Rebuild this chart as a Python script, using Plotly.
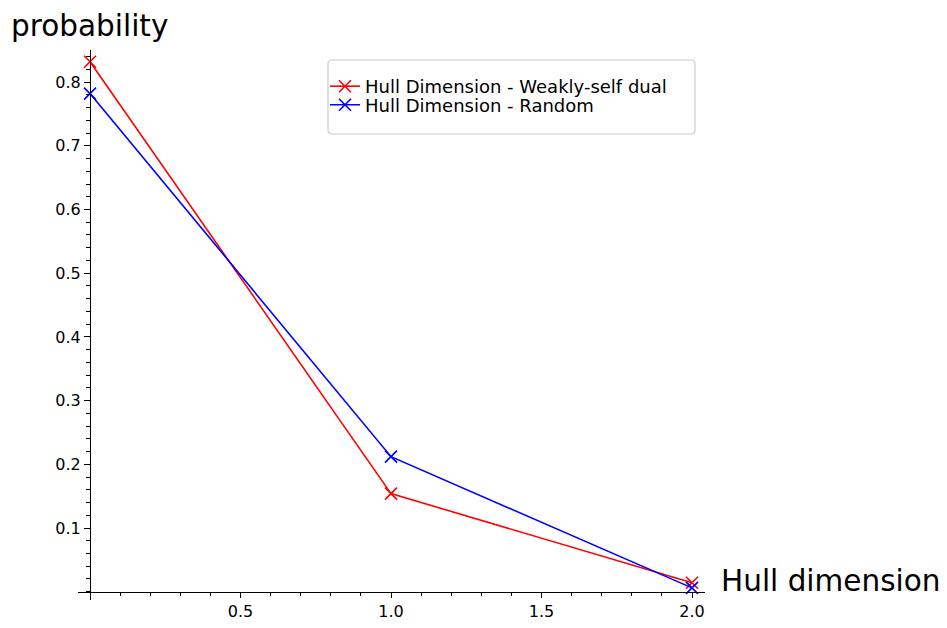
import plotly.graph_objects as go

# Data
hull_dims = [0, 1, 2]
weakly_self_dual = [0.832, 0.154, 0.014]
random_codes = [0.782, 0.212, 0.006]
series_names = ["Hull Dimension - Weakly-self dual", "Hull Dimension - Random"]
x_tick_vals = [0.5, 1.0, 1.5, 2.0]
x_tick_text = ["0.5", "1.0", "1.5", "2.0"]
y_tick_vals = [0.1, 0.2, 0.3, 0.4, 0.5, 0.6, 0.7, 0.8]
y_tick_text = ["0.1", "0.2", "0.3", "0.4", "0.5", "0.6", "0.7", "0.8"]

W, H = 947, 628
OFF = 8  # page body margin offset
FONT = "DejaVu Sans"

def px_x(p):
    return (p - OFF) / W

def px_y(p):
    return 1 - (p - OFF) / H

fig = go.Figure()
for ys, col, name, lg in [(weakly_self_dual, "#ff0000", series_names[0], "legend"),
                          (random_codes, "#0000ff", series_names[1], "legend2")]:
    fig.add_trace(go.Scatter(
        x=hull_dims, y=ys, name=name, mode="lines+markers", legend=lg,
        line=dict(color=col, width=1.6),
        marker=dict(symbol="x-thin", size=12, line=dict(color=col, width=1.6), color=col),
        cliponaxis=False,
    ))

axis_col = "#000000"
leg_common = dict(xanchor="left", yanchor="middle", bgcolor="rgba(0,0,0,0)", borderwidth=0,
                  font=dict(family=FONT, size=18, color="black"), itemwidth=30)
fig.update_layout(
    width=W, height=H,
    margin=dict(l=0, r=0, t=0, b=0, autoexpand=False),
    paper_bgcolor="white", plot_bgcolor="white",
    font=dict(family=FONT, size=17, color="black"),
    showlegend=True,
    legend=dict(x=px_x(325), y=px_y(86.5), **leg_common),
    legend2=dict(x=px_x(325), y=px_y(105), **leg_common),
    xaxis=dict(
        domain=[px_x(78), px_x(705)], range=[-12 / 301, 615 / 301],
        anchor="free", position=px_y(591.7),
        showgrid=False, zeroline=False, showline=True, linecolor=axis_col, linewidth=1.2,
        tickmode="array", tickvals=x_tick_vals, ticktext=x_tick_text,
        ticks="outside", ticklen=5, tickwidth=1.2, tickcolor=axis_col,
        tickfont=dict(family=FONT, size=16, color="black"),
        minor=dict(tickmode="linear", tick0=0, dtick=0.1, ticks="outside", ticklen=3,
                   tickwidth=1, tickcolor=axis_col, showgrid=False),
        automargin=False,
    ),
    yaxis=dict(
        domain=[px_y(600), px_y(50)], range=[-8.3 / 637, 541.7 / 637],
        anchor="free", position=px_x(90),
        showgrid=False, zeroline=False, showline=True, linecolor=axis_col, linewidth=1.2,
        tickmode="array", tickvals=y_tick_vals, ticktext=y_tick_text,
        ticks="outside", ticklen=6, tickwidth=1.2, tickcolor=axis_col,
        tickfont=dict(family=FONT, size=16, color="black"),
        minor=dict(tickmode="linear", tick0=0, dtick=0.02, ticks="outside", ticklen=3.5,
                   tickwidth=1, tickcolor=axis_col, showgrid=False),
        automargin=False,
    ),
)

# Legend frame (rounded rectangle) in paper coords
x0, x1, y0, y1, r = 328, 695, 60, 134, 4
def P(x, y):
    return f"{px_x(x):.5f},{px_y(y):.5f}"
path = (f"M {P(x0 + r, y0)} L {P(x1 - r, y0)} Q {P(x1, y0)} {P(x1, y0 + r)} "
        f"L {P(x1, y1 - r)} Q {P(x1, y1)} {P(x1 - r, y1)} L {P(x0 + r, y1)} "
        f"Q {P(x0, y1)} {P(x0, y1 - r)} L {P(x0, y0 + r)} Q {P(x0, y0)} {P(x0 + r, y0)} Z")
fig.add_shape(type="path", path=path, xref="paper", yref="paper",
              line=dict(color="#cccccc", width=1.2), fillcolor="rgba(255,255,255,0.8)",
              layer="below")

fig.add_annotation(text="probability", xref="paper", yref="paper",
                   x=px_x(10), y=1.0, xanchor="left", yanchor="top", borderpad=0,
                   showarrow=False, font=dict(family=FONT, size=29.5, color="black"))
fig.add_annotation(text="Hull dimension", xref="paper", yref="paper",
                   x=px_x(719), y=px_y(581), xanchor="left", yanchor="middle",
                   showarrow=False, font=dict(family=FONT, size=29.5, color="black"))

fig.write_html("out.html")
